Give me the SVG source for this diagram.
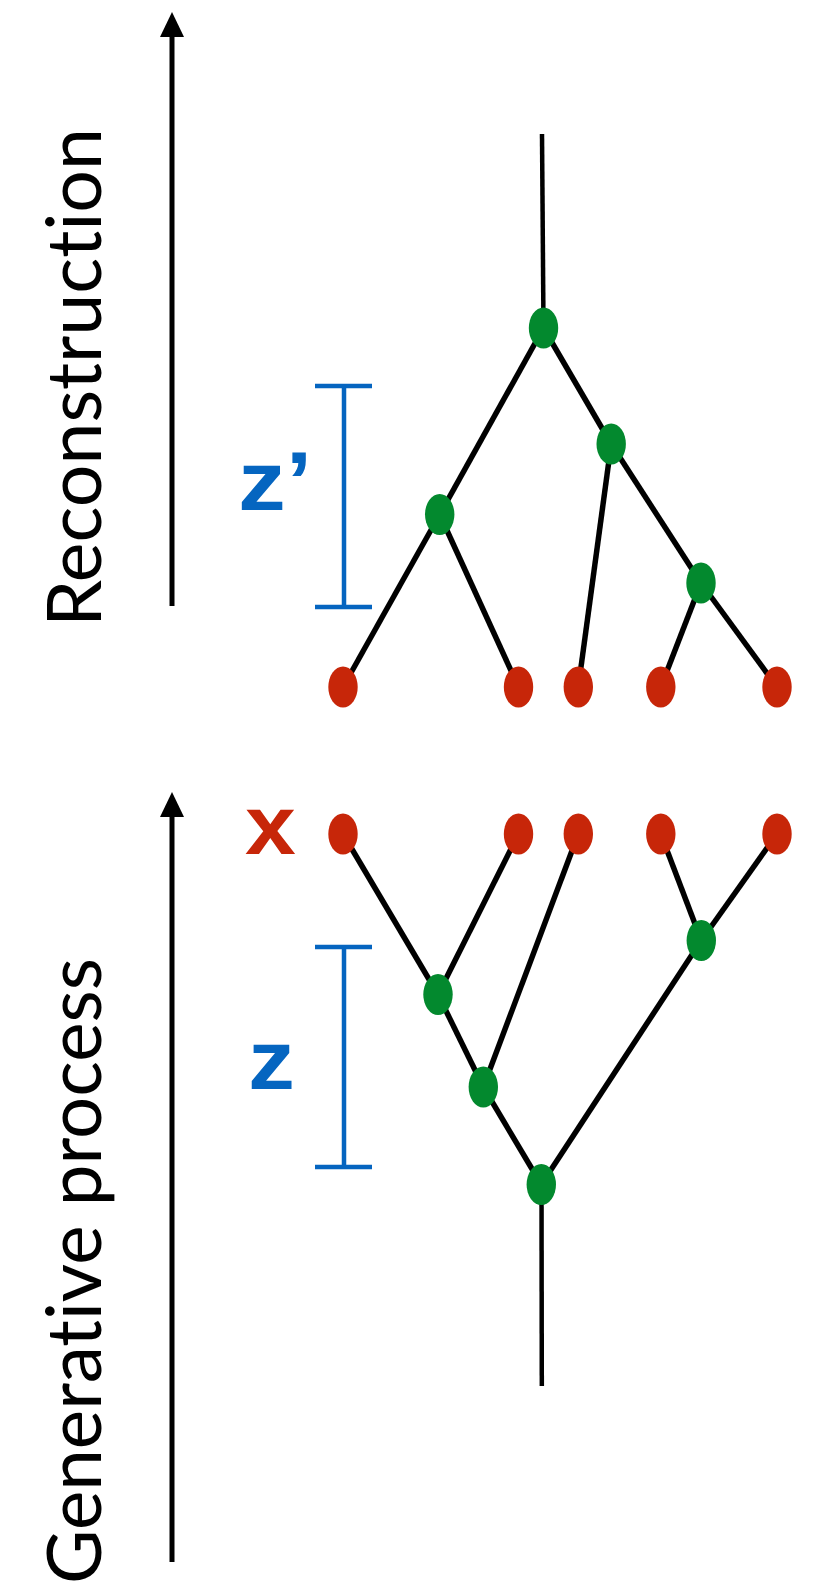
<svg xmlns="http://www.w3.org/2000/svg" width="820" height="1582" viewBox="0 0 820 1582">
<style>
.axis{stroke:#000;stroke-width:5;fill:none}
.edge{stroke:#000;stroke-width:5.5;fill:none;stroke-linecap:butt}
.stem{stroke:#000;stroke-width:4.5;fill:none}
.bar{stroke:#0565C0;stroke-width:4.5;fill:none}
.leaf{fill:#C72609}
.inner{fill:#03892E}
.title{font-family:Lato,"Liberation Sans",sans-serif;font-size:75px;fill:#000;font-variant-ligatures:none;font-feature-settings:"liga" 0,"clig" 0}
.lbl{font-family:"Liberation Sans",Arial,sans-serif;font-weight:bold;font-size:83px}
</style>
<rect width="820" height="1582" fill="#fff"/>

<g id="axis-reconstruction">
<line class="axis" x1="172" y1="606" x2="172" y2="36"/>
<polygon points="172,12 160,37 184,37" fill="#000"/>
<text class="title" transform="translate(101,627) rotate(-90)" textLength="499" lengthAdjust="spacingAndGlyphs">Reconstruction</text>
</g>

<g id="axis-generative">
<line class="axis" x1="172" y1="1562" x2="172" y2="816"/>
<polygon points="172,792 160,817 184,817" fill="#000"/>
<text class="title" transform="translate(101,1584) rotate(-90)" textLength="626" lengthAdjust="spacingAndGlyphs">Generative process</text>
</g>

<g id="zprime-bar">
<line class="bar" x1="344" y1="386" x2="344" y2="607"/>
<line class="bar" x1="315" y1="386" x2="372" y2="386"/>
<line class="bar" x1="315" y1="607" x2="372" y2="607"/>
<text class="lbl" fill="#0565C0" transform="translate(238,510) scale(1.15,1)">z’</text>
</g>

<g id="z-bar">
<line class="bar" x1="344" y1="947" x2="344" y2="1167"/>
<line class="bar" x1="315" y1="947" x2="372" y2="947"/>
<line class="bar" x1="315" y1="1167" x2="372" y2="1167"/>
<text class="lbl" fill="#0565C0" transform="translate(248,1089) scale(1.13,1)">z</text>
</g>

<g id="x-label">
<text class="lbl" fill="#C72609" transform="translate(245,854) scale(1.1,1)">x</text>
</g>

<g id="connectors">
<line class="stem" x1="542" y1="134" x2="543.5" y2="328"/>
<line class="edge" x1="543.5" y1="328" x2="439.7" y2="514.5"/>
<line class="edge" x1="543.5" y1="328" x2="611.2" y2="444"/>
<line class="edge" x1="439.7" y1="514.5" x2="343" y2="687"/>
<line class="edge" x1="439.7" y1="514.5" x2="518.5" y2="687"/>
<line class="edge" x1="611.2" y1="444" x2="578.3" y2="687"/>
<line class="edge" x1="611.2" y1="444" x2="701" y2="583"/>
<line class="edge" x1="701" y1="583" x2="660.8" y2="687"/>
<line class="edge" x1="701" y1="583" x2="777" y2="687"/>
<line class="edge" x1="343" y1="834" x2="438" y2="994.5"/>
<line class="edge" x1="518.5" y1="834" x2="438" y2="994.5"/>
<line class="edge" x1="438" y1="994.5" x2="483.3" y2="1087"/>
<line class="edge" x1="578.3" y1="834" x2="483.3" y2="1087"/>
<line class="edge" x1="483.3" y1="1087" x2="541.3" y2="1184.5"/>
<line class="edge" x1="541.3" y1="1184.5" x2="701.3" y2="940.5"/>
<line class="edge" x1="660.8" y1="834" x2="701.3" y2="940.5"/>
<line class="edge" x1="777" y1="834" x2="701.3" y2="940.5"/>
<line class="stem" x1="541.5" y1="1184.5" x2="541.8" y2="1386"/>
</g>

<g id="top-root"><ellipse class="inner" cx="543.5" cy="328" rx="14.7" ry="20.5"/></g>
<g id="top-left"><ellipse class="inner" cx="439.7" cy="514.5" rx="14.7" ry="20.5"/></g>
<g id="top-right1"><ellipse class="inner" cx="611.2" cy="444" rx="14.7" ry="20.5"/></g>
<g id="top-right2"><ellipse class="inner" cx="701" cy="583" rx="14.7" ry="20.5"/></g>
<g id="top-leaf1"><ellipse class="leaf" cx="343" cy="687" rx="14.7" ry="20.5"/></g>
<g id="top-leaf2"><ellipse class="leaf" cx="518.5" cy="687" rx="14.7" ry="20.5"/></g>
<g id="top-leaf3"><ellipse class="leaf" cx="578.3" cy="687" rx="14.7" ry="20.5"/></g>
<g id="top-leaf4"><ellipse class="leaf" cx="660.8" cy="687" rx="14.7" ry="20.5"/></g>
<g id="top-leaf5"><ellipse class="leaf" cx="777" cy="687" rx="14.7" ry="20.5"/></g>

<g id="bot-leaf1"><ellipse class="leaf" cx="343" cy="834" rx="14.7" ry="20.5"/></g>
<g id="bot-leaf2"><ellipse class="leaf" cx="518.5" cy="834" rx="14.7" ry="20.5"/></g>
<g id="bot-leaf3"><ellipse class="leaf" cx="578.3" cy="834" rx="14.7" ry="20.5"/></g>
<g id="bot-leaf4"><ellipse class="leaf" cx="660.8" cy="834" rx="14.7" ry="20.5"/></g>
<g id="bot-leaf5"><ellipse class="leaf" cx="777" cy="834" rx="14.7" ry="20.5"/></g>
<g id="bot-a"><ellipse class="inner" cx="438" cy="994.5" rx="14.7" ry="20.5"/></g>
<g id="bot-b"><ellipse class="inner" cx="483.3" cy="1087" rx="14.7" ry="20.5"/></g>
<g id="bot-c"><ellipse class="inner" cx="541.3" cy="1184.5" rx="14.7" ry="20.5"/></g>
<g id="bot-d"><ellipse class="inner" cx="701.3" cy="940.5" rx="14.7" ry="20.5"/></g>
</svg>
